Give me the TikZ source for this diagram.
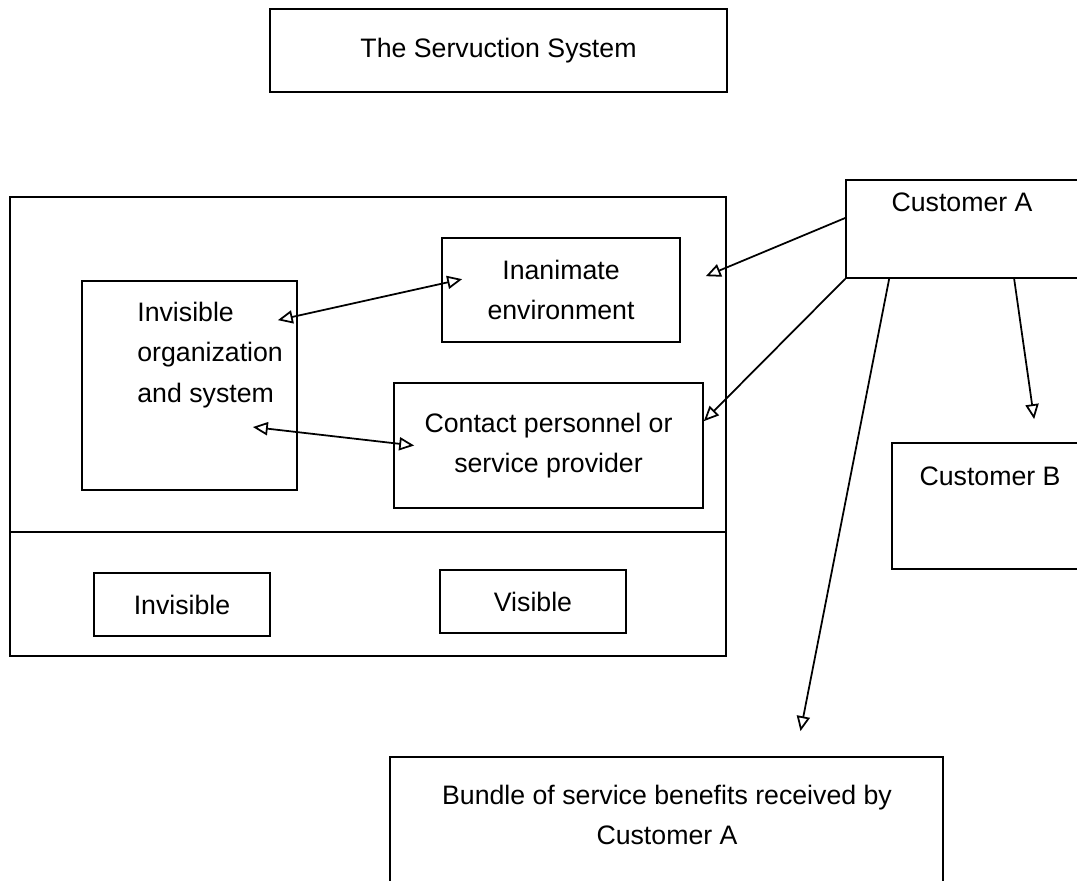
\documentclass[tikz,border=0pt]{standalone}
\usepackage{fontspec}
\setmainfont{Liberation Sans}
\usetikzlibrary{arrows.meta, calc}

\begin{document}
\begin{tikzpicture}[x=.02cm, y=-.02cm,
  every node/.style={font=\fontsize{15.2}{23}\selectfont},
  box/.style={draw, line width=1pt, inner sep=0pt, align=center},
  lbl/.style={inner sep=0pt},
  onetip/.style={line width=1pt, -{Triangle[open, length=8.5pt, width=7.5pt]}},
  twotip/.style={line width=1pt, {Triangle[open, length=8.5pt, width=7.5pt]}-{Triangle[open, length=8.5pt, width=7.5pt]}}]
\useasboundingbox (0,0) rectangle (1077,880);
\clip (0,0) rectangle (1077,880);

% title
\node [box, minimum width=9.14cm, minimum height=1.66cm] (title) at (498.5,50.5) {The Servuction System};

% servuction system
\node [box, minimum width=14.32cm, minimum height=9.18cm] (system) at (368,426.5) {};
\draw [line width=1pt] (system.west |- 0,532) -- (system.east |- 0,532);

\node [box, minimum width=4.76cm, minimum height=2.08cm] (inanimate) at (561,290) {Inanimate\\environment};
\node [box, minimum width=4.3cm, minimum height=4.18cm] (org) at (189.5,385.5) {};
\node [lbl, align=left, anchor=west] (orgtext) at (137,355) {Invisible\\organization\\and system};
\node [box, minimum width=6.18cm, minimum height=2.5cm] (contact) at (548.5,445.5) {Contact personnel or\\service provider};

\node [box, minimum width=3.52cm, minimum height=1.26cm] (invisible) at (182,604.5) {Invisible};
\node [box, minimum width=3.72cm, minimum height=1.26cm] (visible) at (533,601.5) {Visible};

% customers
\node [box, minimum width=5.08cm, minimum height=1.96cm] (custA) at (973,229) {};
\node [lbl] (custAtext) at (962,202) {Customer A};
\node [box, minimum width=4.16cm, minimum height=2.52cm] (custB) at (996,506) {};
\node [lbl] (custBtext) at (990,476) {Customer B};

\node [box, minimum width=11.06cm, minimum height=2.5cm] (bundle) at (666.5,819.5) {};
\node [lbl, align=center] (bundletext) at (667,815) {Bundle of service benefits received by\\Customer A};

% arrows
\draw [twotip] ($(org.north east)+(-20,40)$) -- ($(inanimate.north west)+(21,42)$);
\draw [twotip] ($(org.east)+(-45,41.5)$) -- ($(contact.west)+(21,0)$);
\draw [onetip] ($(custA.west)+(0,-11)$) -- ($(system.north east)+(-21,80)$);
\draw [onetip] (custA.south west) -- ($(contact.north east)+(0,39)$);
\draw [onetip] ($(custA.south west)+(44,0)$) -- ($(bundle.north)+(134,-25)$);
\draw [onetip] ($(custA.south west)+(169,0)$) -- ($(custB.north west)+(143,-23)$);
\end{tikzpicture}
\end{document}
